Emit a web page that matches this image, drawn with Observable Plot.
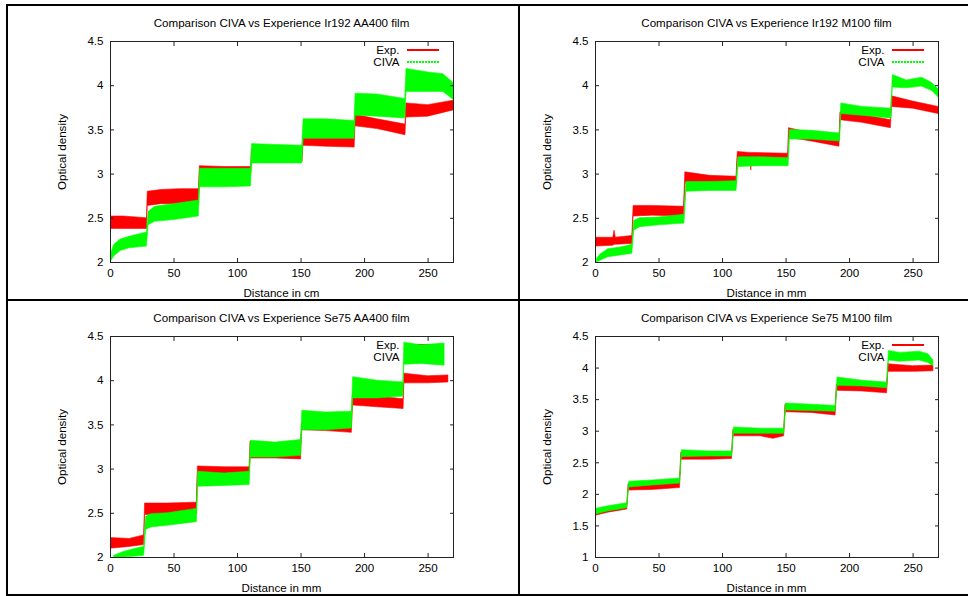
<!DOCTYPE html>
<html>
<head>
<meta charset="utf-8">
<script src="https://cdn.jsdelivr.net/npm/d3@7"></script>
<script src="https://cdn.jsdelivr.net/npm/@observablehq/plot@0.6"></script>
<style>
  body { margin: 0; background: #fff; }
  #page { position: relative; width: 968px; height: 596px; overflow: hidden; background: #fff;
          font-family: "Liberation Sans", Arial, Helvetica, sans-serif; color: #000; }
  .cell { position: absolute; width: 484px; height: 300px; }
  .cell svg { position: absolute; left: 0; top: 0; z-index: 1; }
  .title, .xlab { position: absolute; left: 110px; width: 343px; text-align: center; font-size: 11.6px; line-height: 14px; white-space: nowrap; z-index: 2; }
  .ylab { position: absolute; font-size: 11.6px; line-height: 14px; white-space: nowrap; transform: translate(-50%, -50%) rotate(-90deg); z-index: 2; }
  .leg { position: absolute; font-size: 11.6px; line-height: 14px; z-index: 0; }
  .legtxt { position: absolute; right: 84.5px; text-align: right; white-space: nowrap; }
  .legline { position: absolute; left: 407px; width: 32px; height: 2px; }
  .bd { position: absolute; background: #000; z-index: 5; }
</style>
</head>
<body>
<div id="page"></div>
<script>
// ---------- data: [distance, band low, band high] ----------
const titles = [
  "Comparison CIVA vs Experience Ir192 AA400 film",
  "Comparison CIVA vs Experience Ir192 M100 film",
  "Comparison CIVA vs Experience Se75 AA400 film",
  "Comparison CIVA vs Experience Se75 M100 film"
];
const xLabels = ["Distance in cm", "Distance in mm", "Distance in mm", "Distance in mm"];
const yLabel = "Optical density";
const seriesNames = ["Exp.", "CIVA"];
const xTicks = [0, 50, 100, 150, 200, 250];
const yTicksA = [2, 2.5, 3, 3.5, 4, 4.5];
const yTicksB = [1, 1.5, 2, 2.5, 3, 3.5, 4, 4.5];
const yDomains = [[2, 4.5], [2, 4.5], [2, 4.5], [1, 4.5]];

// Ir192 AA400
const irAA_exp = [
  [0, 2.38, 2.52], [10, 2.38, 2.52], [20, 2.38, 2.51], [28.7, 2.38, 2.50],
  [29.3, 2.64, 2.80], [40, 2.66, 2.82], [55, 2.66, 2.83], [69.7, 2.66, 2.83],
  [70.3, 2.98, 3.09], [90, 2.98, 3.08], [110.7, 2.98, 3.08],
  [111.3, 3.14, 3.28], [130, 3.13, 3.27], [151.2, 3.14, 3.27],
  [151.8, 3.32, 3.43], [170, 3.31, 3.42], [192.2, 3.30, 3.40],
  [192.8, 3.54, 3.67], [210, 3.51, 3.62], [232.2, 3.44, 3.56],
  [232.8, 3.64, 3.80], [250, 3.65, 3.78], [270, 3.72, 3.83]
];
const irAA_civa = [
  [0.5, 2.01, 2.10], [3, 2.07, 2.20], [8, 2.13, 2.26], [15, 2.16, 2.29], [28.7, 2.18, 2.34],
  [30, 2.42, 2.57], [35, 2.46, 2.63], [50, 2.48, 2.66], [69.5, 2.52, 2.70],
  [70.5, 2.85, 3.06], [90, 2.85, 3.06], [110.5, 2.86, 3.06],
  [111.5, 3.12, 3.34], [130, 3.12, 3.33], [151, 3.12, 3.32],
  [152, 3.40, 3.62], [170, 3.40, 3.62], [192, 3.40, 3.60],
  [193, 3.66, 3.91], [210, 3.65, 3.90], [232, 3.63, 3.85],
  [233, 3.93, 4.19], [250, 3.93, 4.15], [262, 3.93, 4.13], [270, 3.84, 4.03]
];
// Ir192 M100
const irM_exp = [
  [0, 2.18, 2.28], [14, 2.19, 2.28], [15, 2.20, 2.36], [16, 2.20, 2.28], [29, 2.21, 2.30],
  [30, 2.52, 2.64], [45, 2.53, 2.64], [69.7, 2.52, 2.63],
  [70.7, 2.89, 3.02], [90, 2.89, 2.98], [111, 2.88, 2.97],
  [112, 3.17, 3.25], [122, 3.17, 3.24], [122.6, 3.04, 3.24], [123.2, 3.17, 3.24], [151.7, 3.16, 3.23],
  [152.3, 3.41, 3.52], [170, 3.37, 3.46], [192, 3.31, 3.40],
  [192.8, 3.61, 3.70], [210, 3.58, 3.67], [232.5, 3.52, 3.61],
  [233.3, 3.76, 3.88], [250, 3.74, 3.82], [270, 3.68, 3.76]
];
const irM_civa = [
  [1, 2.00, 2.04], [4, 2.02, 2.09], [10, 2.06, 2.15], [20, 2.08, 2.17], [29, 2.10, 2.20],
  [30.5, 2.36, 2.47], [35, 2.40, 2.50], [50, 2.42, 2.51], [70, 2.44, 2.54],
  [71.5, 2.80, 2.91], [90, 2.81, 2.91], [111, 2.81, 2.92],
  [112.5, 3.08, 3.19], [130, 3.09, 3.19], [152, 3.09, 3.18],
  [153, 3.39, 3.50], [170, 3.39, 3.49], [192.5, 3.37, 3.46],
  [193.5, 3.68, 3.80], [210, 3.66, 3.76], [233, 3.63, 3.74],
  [234, 3.98, 4.12], [245, 3.97, 4.06], [257, 3.99, 4.09], [265, 3.94, 4.03], [270, 3.87, 3.96]
];
// Se75 AA400
const seAA_exp = [
  [0, 2.10, 2.22], [15, 2.12, 2.21], [26.5, 2.14, 2.25],
  [27.2, 2.48, 2.61], [45, 2.49, 2.61], [68, 2.49, 2.62],
  [68.8, 2.94, 3.03], [90, 2.95, 3.02], [109.5, 2.96, 3.02],
  [110.2, 3.12, 3.31], [130, 3.12, 3.28], [150, 3.11, 3.27],
  [150.8, 3.44, 3.52], [170, 3.43, 3.50], [190, 3.41, 3.50],
  [190.8, 3.72, 3.84], [210, 3.70, 3.82], [230.7, 3.68, 3.79],
  [231.3, 3.97, 4.08], [250, 3.97, 4.05], [266, 3.98, 4.06]
];
const seAA_civa = [
  [3, 2.00, 2.02], [10, 2.00, 2.06], [20, 2.01, 2.10], [26.5, 2.02, 2.12],
  [28, 2.31, 2.46], [32, 2.34, 2.49], [45, 2.36, 2.50], [68, 2.40, 2.55],
  [69, 2.80, 2.97], [90, 2.81, 2.95], [109.5, 2.82, 2.97],
  [110.5, 3.13, 3.32], [130, 3.13, 3.30], [150, 3.15, 3.33],
  [151, 3.44, 3.66], [170, 3.44, 3.64], [190, 3.46, 3.65],
  [191, 3.80, 4.04], [210, 3.80, 4.00], [230.5, 3.82, 3.98],
  [231.3, 4.18, 4.43], [245, 4.19, 4.40], [263, 4.17, 4.42]
];
// Se75 M100
const seM_exp = [
  [0, 1.66, 1.74], [10, 1.71, 1.79], [25, 1.76, 1.83],
  [26, 2.06, 2.16], [45, 2.07, 2.16], [66.5, 2.10, 2.19],
  [67.5, 2.55, 2.66], [90, 2.55, 2.63], [107.5, 2.56, 2.64],
  [108.5, 2.92, 3.02], [130, 2.92, 3.00], [140, 2.88, 3.00], [148.5, 2.92, 3.00],
  [149.5, 3.30, 3.42], [170, 3.29, 3.38], [189, 3.25, 3.35],
  [190, 3.64, 3.74], [210, 3.63, 3.72], [229.5, 3.60, 3.69],
  [230.5, 3.94, 4.06], [250, 3.94, 4.03], [266, 3.95, 4.04]
];
const seM_civa = [
  [0, 1.68, 1.77], [10, 1.73, 1.81], [25, 1.78, 1.86],
  [26.5, 2.11, 2.20], [45, 2.14, 2.22], [66.5, 2.17, 2.25],
  [68, 2.59, 2.70], [90, 2.60, 2.68], [107.5, 2.60, 2.68],
  [109, 2.96, 3.06], [130, 2.96, 3.04], [148.5, 2.96, 3.04],
  [150, 3.33, 3.44], [170, 3.32, 3.42], [189, 3.31, 3.40],
  [190.5, 3.72, 3.85], [210, 3.71, 3.80], [229.5, 3.68, 3.77],
  [231, 4.12, 4.27], [240, 4.10, 4.24], [255, 4.12, 4.26], [262, 4.08, 4.22], [266, 4.03, 4.12]
];

const expSeries = [irAA_exp, irM_exp, seAA_exp, seM_exp];
const civaSeries = [irAA_civa, irM_civa, seAA_civa, seM_civa];
const yTickSets = [yTicksA, yTicksA, yTicksA, yTicksB];

// ---------- layout ----------
const RED = "#ff0000", GREEN = "#00ff00", FRAME = "#222";
const page = document.getElementById("page");
const offsets = [[0, 0], [485, 0], [0, 295], [485, 295]];
const fmt = d => String(d);

function band(data, color) {
  return Plot.areaY(data, {x: d => d[0], y1: d => d[1], y2: d => d[2], fill: color, stroke: color, strokeWidth: 0.6, clip: true});
}

for (let i = 0; i < 4; i++) {
  const [ox, oy] = offsets[i];
  const cell = document.createElement("div");
  cell.className = "cell";
  cell.style.left = ox + "px";
  cell.style.top = oy + "px";
  page.appendChild(cell);

  // legend (drawn beneath the data, as in the reference)
  const leg = document.createElement("div");
  leg.className = "leg";
  leg.style.left = "0px"; leg.style.top = "0px"; leg.style.width = "484px"; leg.style.height = "300px";
  leg.innerHTML =
    `<div class="legtxt" style="top:42.5px">${seriesNames[0]}</div>` +
    `<div class="legline" style="top:48.5px;background:${RED}"></div>` +
    `<div class="legtxt" style="top:54.5px">${seriesNames[1]}</div>` +
    `<div class="legline" style="top:60.5px;background:repeating-linear-gradient(to right, ${GREEN} 0 2px, transparent 2px 3px)"></div>`;
  cell.appendChild(leg);

  const yt = yTickSets[i];
  const chart = Plot.plot({
    width: 484, height: 300,
    marginLeft: 110, marginRight: 31, marginTop: 41, marginBottom: 38,
    style: {background: "transparent", fontFamily: '"Liberation Sans", Arial, sans-serif', fontSize: "11.6px", color: "#000"},
    x: {domain: [0, 270], ticks: xTicks},
    y: {domain: yDomains[i], ticks: yt},
    marks: [
      band(expSeries[i], RED),
      band(civaSeries[i], GREEN),
      Plot.axisX(xTicks, {anchor: "bottom", tickSize: 0, tickPadding: 6, label: null, tickFormat: fmt}),
      Plot.axisX(xTicks, {anchor: "bottom", tickSize: -4, text: null, label: null, stroke: FRAME}),
      Plot.axisX(xTicks, {anchor: "top", tickSize: -4, text: null, label: null, stroke: FRAME}),
      Plot.axisY(yt, {anchor: "left", tickSize: 0, tickPadding: 7, label: null, tickFormat: fmt}),
      Plot.axisY(yt, {anchor: "left", tickSize: -4, text: null, label: null, stroke: FRAME}),
      Plot.axisY(yt, {anchor: "right", tickSize: -4, text: null, label: null, stroke: FRAME}),
      Plot.frame({stroke: FRAME})
    ]
  });
  cell.appendChild(chart);

  const t = document.createElement("div");
  t.className = "title"; t.style.top = "15.5px"; t.textContent = titles[i];
  cell.appendChild(t);
  const xl = document.createElement("div");
  xl.className = "xlab"; xl.style.top = "286px"; xl.textContent = xLabels[i];
  cell.appendChild(xl);
  const yl = document.createElement("div");
  yl.className = "ylab"; yl.style.left = "62px"; yl.style.top = "151.5px"; yl.textContent = yLabel;
  cell.appendChild(yl);
}

// table rules
const rules = [
  {left: 6, top: 4, width: 962, height: 2},
  {left: 6, top: 4, width: 2, height: 592},
  {left: 518, top: 4, width: 2, height: 592},
  {left: 6, top: 299, width: 962, height: 2},
  {left: 6, top: 594, width: 962, height: 2}
];
for (const r of rules) {
  const d = document.createElement("div");
  d.className = "bd";
  Object.assign(d.style, {left: r.left + "px", top: r.top + "px", width: r.width + "px", height: r.height + "px"});
  page.appendChild(d);
}
</script>
</body>
</html>
